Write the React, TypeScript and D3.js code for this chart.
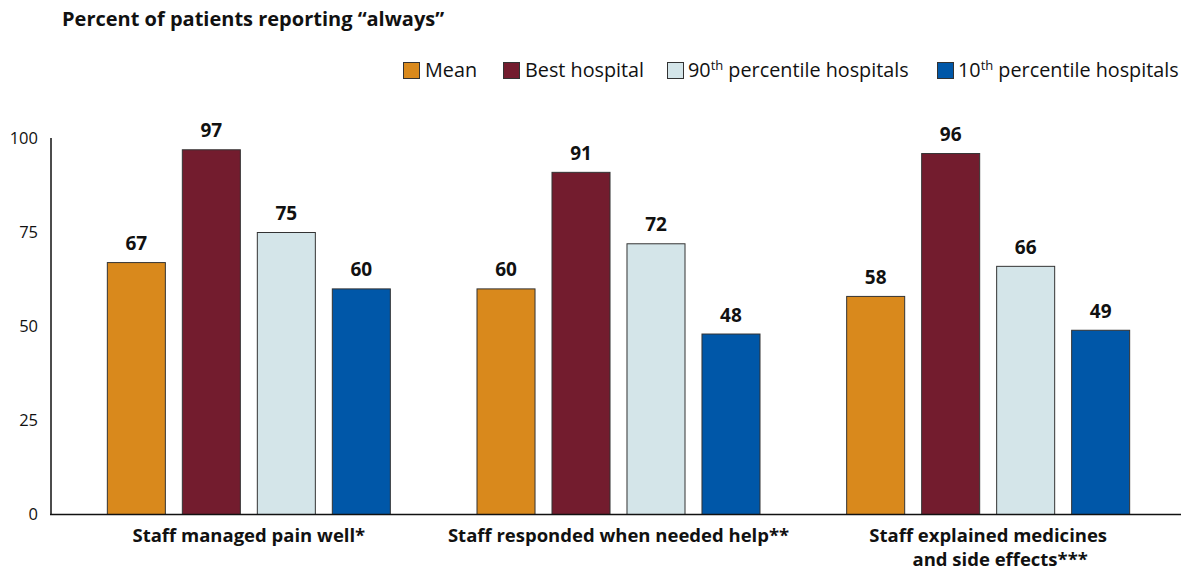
import React from "react";
import * as d3 from "d3";

const categories = ["Staff managed pain well*", "Staff responded when needed help**", "Staff explained medicines\nand side effects***"];
const seriesNames = ["Mean", "Best hospital", "90th percentile hospitals", "10th percentile hospitals"];
const meanValues = [67, 60, 58];
const bestValues = [97, 91, 96];
const p90Values = [75, 72, 66];
const p10Values = [60, 48, 49];
const yTicks = [0, 25, 50, 75, 100];
const colors = ["#D9891C", "#731C2E", "#D4E5E9", "#0057A8"];

const FONT = "'Open Sans', 'Noto Sans', sans-serif";

export default function App() {
  const W = 1195, H = 573;
  const series = [meanValues, bestValues, p90Values, p10Values];
  const y = d3.scaleLinear().domain([0, 100]).range([514, 138]);
  const x0 = d3.scaleBand<string>().domain(categories).range([64, 1173]).padding(0);
  const x1 = d3.scaleBand<number>().domain([0, 1, 2, 3]).range([0, 284]).paddingInner(0.213).paddingOuter(0);
  const groupOffset = (x0.bandwidth() - 284) / 2;

  const legendItems = [
    { sq: 403, tx: 425, label: "Mean" },
    { sq: 503, tx: 525, label: "Best hospital" },
    { sq: 667, tx: 688, label: "90th percentile hospitals" },
    { sq: 937, tx: 958, label: "10th percentile hospitals" },
  ];

  const renderLabel = (s: string) => {
    const m = s.match(/^(\d+)th(.*)$/);
    if (!m) return s;
    return (
      <>
        {m[1]}
        <tspan fontSize={13} dy={-7}>th</tspan>
        <tspan dy={7}>{m[2]}</tspan>
      </>
    );
  };

  return (
    <svg width={W} height={H} style={{ position: "absolute", left: 0, top: 0, background: "#fff" }} fontFamily={FONT}>
      <text x={62} y={26} fontSize={20} fontWeight={700} fill="#111">Percent of patients reporting “always”</text>

      {legendItems.map((l, i) => (
        <g key={i}>
          <rect x={l.sq + 0.5} y={62.5} width={16} height={16} fill={colors[i]} stroke="#333" strokeWidth={1} />
          <text x={l.tx} y={77} fontSize={19.8} fill="#111">{renderLabel(seriesNames[i])}</text>
        </g>
      ))}

      {yTicks.map((t) => (
        <text key={t} x={38} y={y(t) + 6} fontSize={16.5} textAnchor="end" fill="#111">{t}</text>
      ))}

      {categories.map((c, ci) => (
        <g key={ci} transform={`translate(${x0(c)! + groupOffset},0)`}>
          {series.map((vals, si) => (
            <g key={si}>
              <rect x={x1(si)! + 0.5} y={y(vals[ci]) + 0.5} width={x1.bandwidth() - 1} height={y(0) - y(vals[ci])} fill={colors[si]} stroke="#333" strokeWidth={1} />
              <text x={x1(si)! + x1.bandwidth() / 2} y={y(vals[ci]) - 12} fontSize={19} fontWeight={700} textAnchor="middle" fill="#111">{vals[ci]}</text>
            </g>
          ))}
        </g>
      ))}

      <line x1={51} x2={51} y1={138} y2={515} stroke="#111" strokeWidth={1.5} />
      <line x1={50} x2={1181} y1={514.5} y2={514.5} stroke="#111" strokeWidth={1.5} />

      {categories.map((c, ci) => {
        const lines = c.split("\n");
        const cx = x0(c)! + x0.bandwidth() / 2;
        return (
          <text key={ci} x={cx} y={542} fontSize={18.5} fontWeight={700} textAnchor="middle" fill="#111">
            {lines.map((ln, li) => (
              <tspan key={li} x={cx + (li === 0 ? 0 : 12)} dy={li === 0 ? 0 : 24}>{ln}</tspan>
            ))}
          </text>
        );
      })}
    </svg>
  );
}
